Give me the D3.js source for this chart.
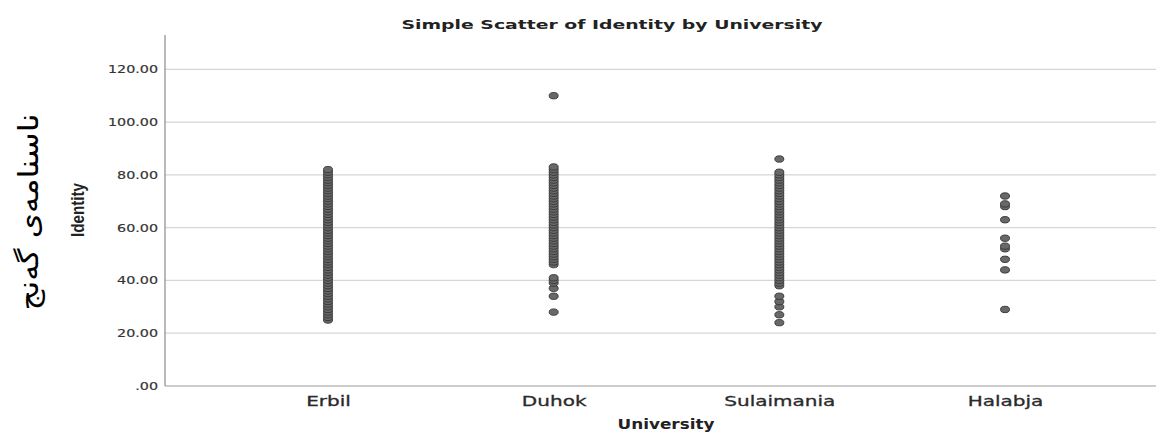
<!DOCTYPE html>
<html><head><meta charset="utf-8">
<script src="https://cdn.jsdelivr.net/npm/d3@7"></script>
<style>html,body{margin:0;padding:0;background:#fff;}</style>
</head><body>
<svg id="chart" width="1156" height="435"></svg>
<script>
const categories = ["Erbil", "Duhok", "Sulaimania", "Halabja"];
const erbilValues = [25,26,27,28,29,30,31,32,33,34,35,36,37,38,39,40,41,42,43,44,45,46,47,48,49,50,51,52,53,54,55,56,57,58,59,60,61,62,63,64,65,66,67,68,69,70,71,72,73,74,75,76,77,78,79,80,81,82];
const duhokValues = [28,34,37,39,40,41,46,47,48,49,50,51,52,53,54,55,56,57,58,59,60,61,62,63,64,65,66,67,68,69,70,71,72,73,74,75,76,77,78,79,80,81,82,83,110];
const sulaimaniaValues = [24,27,30,32,34,38,39,40,41,42,43,44,45,46,47,48,49,50,51,52,53,54,55,56,57,58,59,60,61,62,63,64,65,66,67,68,69,70,71,72,73,74,75,76,77,78,79,80,81,86];
const halabjaValues = [29,44,48,52,53,56,63,68,69,72];
const yTicks = [0,20,40,60,80,100,120];
const yTickLabels = [".00","20.00","40.00","60.00","80.00","100.00","120.00"];
const yMax = 133;
const title = "Simple Scatter of Identity by University";
const xTitle = "University";
const yTitle = "Identity";
const sideTitle = "ناسنامەی گەنج";

const seriesByCat = [erbilValues, duhokValues, sulaimaniaValues, halabjaValues];
const points = [];
categories.forEach((c, i) => seriesByCat[i].forEach(v => points.push({cat: c, v})));

const svg = d3.select("#chart");
const plotLeft = 165, plotRight = 1156, plotTop = 35, plotBottom = 386;
const stretch = 1.43;

const x = d3.scalePoint().domain(categories).range([328, 1005]);
const y = d3.scaleLinear().domain([0, yMax]).range([plotBottom, plotTop]);

// gridlines
svg.append("g").selectAll("line").data(yTicks.filter(t => t > 0)).join("line")
  .attr("x1", plotLeft).attr("x2", plotRight)
  .attr("y1", d => y(d)).attr("y2", d => y(d))
  .attr("stroke", "#d6d6d6").attr("stroke-width", 1.2);

// y axis
const yAxis = d3.axisLeft(y).tickValues(yTicks).tickSize(0).tickPadding(7)
  .tickFormat((d, i) => yTickLabels[i]);
const gy = svg.append("g").attr("transform", `translate(${plotLeft},0)`).call(yAxis);
gy.select(".domain").remove();
gy.selectAll("text").attr("font-family", "DejaVu Sans").attr("font-size", 10)
  .attr("fill", "#333").attr("stroke", "#333").attr("stroke-width", 0.15).attr("dy", "0.35em");
gy.selectAll("text").each(function () {
  const w = this.getComputedTextLength();
  d3.select(this).attr("textLength", w * stretch).attr("lengthAdjust", "spacingAndGlyphs");
});
svg.append("line").attr("x1", plotLeft).attr("x2", plotLeft)
  .attr("y1", plotTop).attr("y2", plotBottom).attr("stroke", "#8a8a8a").attr("stroke-width", 1.2);

// x axis
const xAxis = d3.axisBottom(x).tickSize(0).tickPadding(10);
const gx = svg.append("g").attr("transform", `translate(0,${plotBottom})`).call(xAxis);
gx.select(".domain").remove();
gx.selectAll("text").attr("font-family", "DejaVu Sans").attr("font-size", 14)
  .attr("fill", "#2a2a2a").attr("stroke", "#2a2a2a").attr("stroke-width", 0.3);
gx.selectAll("text").each(function () {
  const w = this.getComputedTextLength();
  d3.select(this).attr("textLength", w * stretch).attr("lengthAdjust", "spacingAndGlyphs");
});
svg.append("line").attr("x1", plotLeft).attr("x2", plotRight)
  .attr("y1", plotBottom).attr("y2", plotBottom).attr("stroke", "#9a9a9a").attr("stroke-width", 1.2);

// points
svg.append("g").selectAll("ellipse").data(points).join("ellipse")
  .attr("cx", d => x(d.cat)).attr("cy", d => y(d.v))
  .attr("rx", 4.5).attr("ry", 3.2)
  .attr("fill", "#686868").attr("stroke", "#363636").attr("stroke-width", 0.9);

// titles
const t = svg.append("text").attr("x", 612).attr("y", 29).attr("text-anchor", "middle")
  .attr("font-family", "DejaVu Sans").attr("font-weight", "bold").attr("font-size", 13)
  .attr("fill", "#222").text(title);
t.attr("textLength", 421).attr("lengthAdjust", "spacingAndGlyphs");

const xt = svg.append("text").attr("x", 666).attr("y", 429).attr("text-anchor", "middle")
  .attr("font-family", "DejaVu Sans").attr("font-weight", "bold").attr("font-size", 13.5)
  .attr("fill", "#222").text(xTitle);
xt.attr("textLength", 97).attr("lengthAdjust", "spacingAndGlyphs");

svg.append("text").attr("transform", "translate(84,210) rotate(-90)").attr("text-anchor", "middle")
  .attr("font-family", "Liberation Sans, Arial, sans-serif").attr("font-weight", "bold").attr("font-size", 18)
  .attr("fill", "#222").attr("textLength", 54).attr("lengthAdjust", "spacingAndGlyphs").text(yTitle);

svg.append("text").attr("transform", "translate(38,212) rotate(-90)").attr("text-anchor", "middle")
  .attr("font-family", "DejaVu Sans").attr("font-size", 28)
  .attr("fill", "#000").attr("textLength", 197).attr("lengthAdjust", "spacingAndGlyphs").text(sideTitle);
</script>
</body></html>
